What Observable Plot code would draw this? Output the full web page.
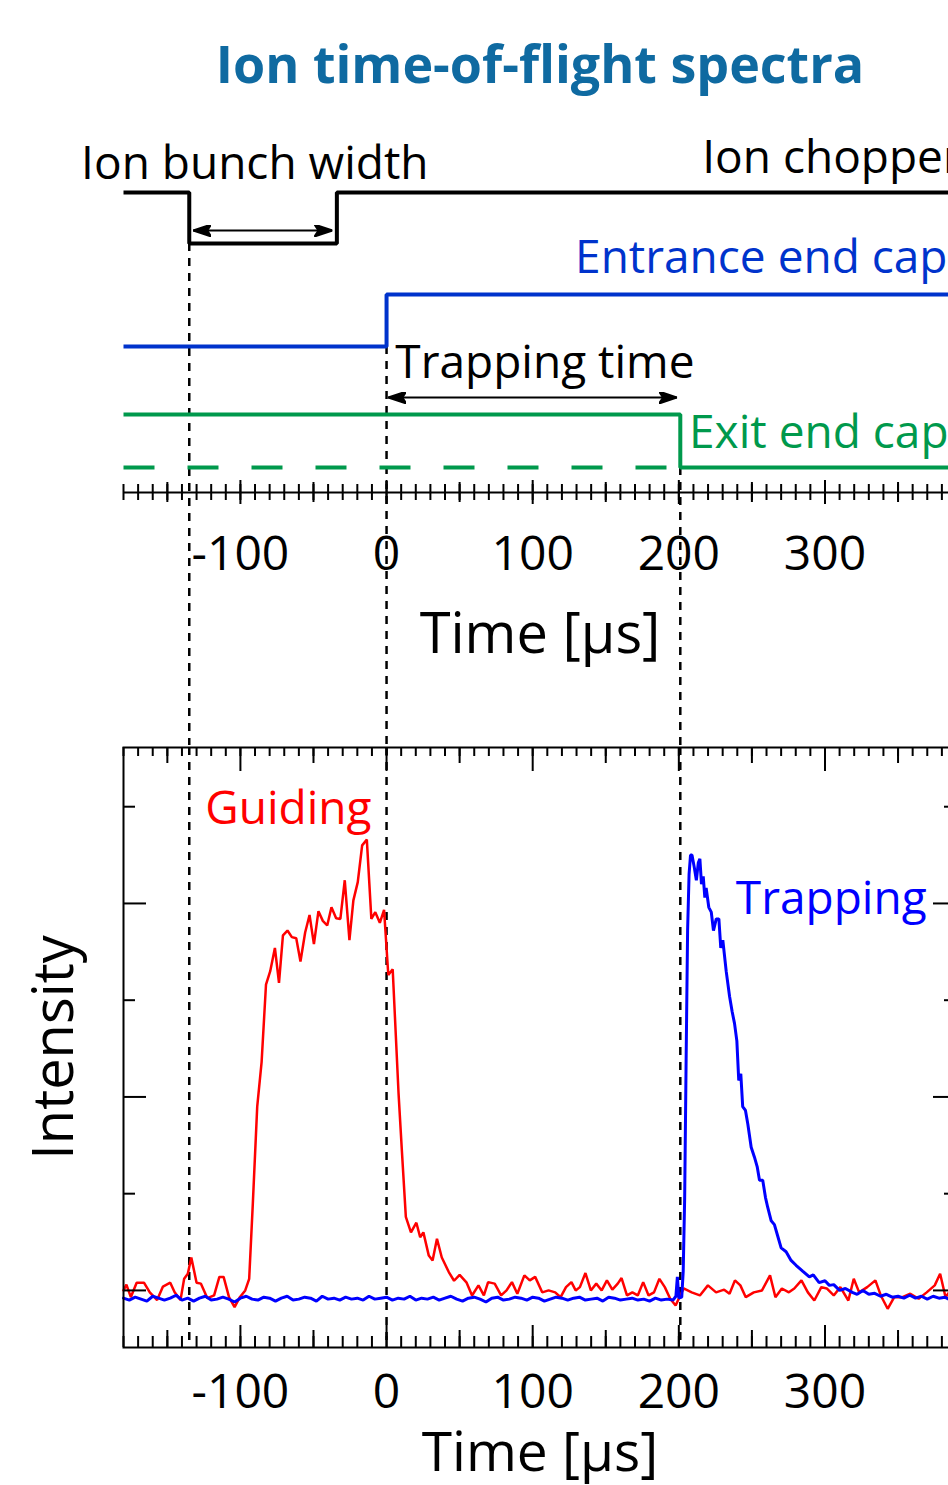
<!DOCTYPE html>
<html><head><meta charset="utf-8">
<script src="https://cdn.jsdelivr.net/npm/d3@7"></script>
<script src="https://cdn.jsdelivr.net/npm/@observablehq/plot@0.6"></script>
<style>
html,body{margin:0;padding:0;background:#fff;overflow:hidden;}
#page{position:relative;width:948px;height:1485px;overflow:hidden;font-family:"Open Sans",sans-serif;}
#title{position:absolute;left:0;top:37px;width:1080px;text-align:center;font-size:52px;line-height:52px;font-weight:700;color:#0f6aa1;white-space:nowrap;}
#top{position:absolute;left:0;top:100px;width:970px;}
#bottom{position:absolute;left:0;top:745px;width:970px;}
svg{max-width:none !important;}
</style></head>
<body><div id="page"><div id="title">Ion time-of-flight spectra</div><div id="top"></div><div id="bottom"></div></div>
<script>
// ---------- shared time axis ----------
const timeDomain = [-180, 390];
const xLabelTicks = [-100, 0, 100, 200, 300];
const xTickLabels = ["-100", "0", "100", "200", "300"];
const xMidTicks = [-150, -50, 50, 150, 250, 350];
const xMinorTicks = d3.range(-180, 391, 10);

// ---------- timing diagram (top panel) ----------
const chopperTime = [-180, -135, -34, 390];
const chopperLevel = [300, 249, 300, 300];
const entranceTime = [-180, 0, 390];
const entranceLevel = [146, 198, 198];
const exitTime = [-180, 201, 390];
const exitLevel = [78, 25, 25];
const exitOffTime = [-180, 201];
const exitOffLevel = [25, 25];
const edgeTimes = [-135, 0, 201];
const edgeLevels = [249, 146, 25];
const guideBottom = -253;
const spanStart = [-132.3, 1.2];
const spanEnd = [-37, 198.8];
const spanLevel = [262, 95];
const noteText = ["Ion bunch width", "Ion chopper", "Entrance end cap", "Trapping time", "Exit end cap"];
const noteTime = [-209, 216, 129, 6, 207];
const noteLevel = [314, 320, 220, 115, 45];
const noteColor = ["#000000", "#000000", "#0033cc", "#000000", "#00994c"];

// ---------- spectra (bottom panel) ----------
const intensityDomain = [-29.5, 280.6];
const yMajorTicks = [0, 100, 200];
const yMinorTicks = [50, 150, 250];
const guidingSpectrum = [[-180,0],[-178,3],[-175,-3.5],[-171,4],[-166,4],[-162,-1],[-157,-5],[-153,2],[-148,4],[-145,-1],[-141,-5],[-138.5,6],[-136,8.6],[-133.6,17],[-130,4],[-127,3.5],[-122.6,-4],[-118,-2.6],[-114.4,7],[-111.5,7],[-107.8,-3.5],[-104,-8.6],[-100.4,-3.5],[-96.7,0],[-94,6],[-91.5,45],[-88.5,95],[-85.5,118],[-82.5,158],[-79.6,165],[-76.4,177],[-73.6,159],[-70.9,183.5],[-67.8,186],[-64.8,182.6],[-61.8,182],[-58.9,170],[-55.7,185],[-52.7,194],[-49.7,179],[-46.6,196],[-43.6,191],[-40.6,188.6],[-37.7,198],[-34.5,192.4],[-31.6,192],[-28.6,212],[-25.4,181],[-22.7,201.6],[-19.7,211],[-16.7,230],[-13.5,233],[-10.4,192],[-7.7,195.5],[-4.6,190],[-1.7,196.7],[1.2,163],[4.2,166],[8.2,102],[10.5,72],[13.2,38],[16.7,30],[20.4,35],[23,27.5],[25.2,30],[28.9,18],[31.5,15.5],[34.5,26.7],[37.8,17],[42.6,9.5],[46.2,5],[50,8],[54.8,4],[58.5,-2.6],[62.9,2.6],[66.6,-2.6],[69.5,4.3],[74,3.5],[78.4,-2.6],[82.1,0],[85.8,4.3],[89.5,-1.7],[94.3,7.8],[98,5.2],[101.7,7],[106.5,-1],[110.9,0],[115.4,-1],[119.1,-3.5],[122.8,1.7],[126.5,4.3],[129.4,0],[132.3,1.7],[136.1,9],[139.8,0],[143.5,3.5],[147.2,0],[150.8,5.2],[154.5,0.4],[158.2,3.5],[160.8,6.4],[164.5,-2.6],[168.2,-1],[171.9,-2.6],[175.6,4.3],[179.3,-2.6],[183,-1],[186.7,6],[190.4,1.7],[194.1,-4.3],[197.8,-7.8],[200.4,-3.5],[203.3,1],[208.8,-1],[214.4,-2.6],[219.9,2.6],[225.5,-1],[231,0.4],[234.7,-1.7],[238.4,5.2],[242.1,2.6],[245.8,-3.5],[251.3,-1],[256.9,0],[262.4,7.8],[266.1,-3.5],[270.5,1],[275.3,-1],[279,1],[283.9,5.2],[288.3,-1],[292.7,-5.2],[297.5,1.7],[301.2,1],[306,-2.6],[310.5,1.7],[316,-5.2],[319.7,6],[323.4,-1],[328.9,1.7],[334.5,5.2],[338.2,-2.6],[342.9,-9.5],[347.4,-3.5],[353,-3.5],[358.4,-1.7],[364.1,-4.3],[369.6,-1],[375.1,2.6],[378.8,8.6],[382.5,-3.5],[386,0],[390,-2]];
const trappingSpectrum = [[-180,-4],[-176,-5],[-172,-3.5],[-168,-4.5],[-164,-5.5],[-160,-3],[-156,-4],[-152,-5],[-148,-4],[-144,-2.5],[-140,-5],[-136,-4],[-132,-5.5],[-128,-4],[-124,-3],[-120,-5],[-116,-4.5],[-112,-3.5],[-108,-4.5],[-104,-6],[-100,-4],[-96,-3],[-92,-4.5],[-88,-5],[-84,-3.5],[-80,-4],[-76,-5.5],[-72,-4],[-68,-3],[-64,-5],[-60,-4.5],[-56,-3.5],[-52,-4],[-48,-5.5],[-44,-3],[-40,-4.5],[-36,-4],[-32,-5],[-28,-3.5],[-24,-4.5],[-20,-4],[-16,-5],[-12,-3],[-8,-4.5],[-4,-4],[0,-3.5],[4,-5],[8,-4],[12,-4.5],[16,-3],[20,-5],[24,-4],[28,-4.5],[32,-3.5],[36,-5],[40,-4],[44,-3],[48,-4.5],[52,-5.5],[56,-4],[60,-3.5],[64,-4.5],[68,-6],[72,-4],[76,-3.5],[80,-5],[84,-4.5],[88,-3.5],[92,-4],[96,-5],[100,-3.5],[104,-4],[108,-5.5],[112,-4.5],[116,-3.5],[120,-4],[124,-5],[128,-4],[132,-3.5],[136,-5],[140,-4.5],[144,-4],[148,-5.5],[152,-3.5],[156,-4],[160,-5],[164,-4.5],[168,-4],[172,-5],[176,-4.5],[180,-5.5],[184,-4],[188,-5],[192,-4.5],[196,-5],[198,-3],[199,7],[200,-4],[202,-3.5],[203,10],[204,48],[205,120],[206,186],[207,215],[208,225],[209,225],[210.5,219],[212,212],[213.3,221],[214.4,223],[215.5,210],[216.7,214],[217.8,203],[218.7,208],[220.5,198],[222.2,195.5],[223.7,186],[225.6,192],[227.4,192],[228.7,177],[230.1,181],[232.4,165],[234.7,152],[236.5,144],[238.1,138],[239.7,129],[241,108.5],[242.4,112],[243.7,95],[245.6,93],[247.2,86],[249.5,74],[251.7,69],[253.6,64],[255.2,57],[257.4,57],[259.3,48],[260.8,43],[263.2,36],[265.4,34],[267.7,28],[270,22],[273.4,20],[276.8,15.5],[280.2,13],[284.7,10],[289.3,7],[292,8],[296,4],[300,5],[303,2.6],[306,3],[310,0],[314,1],[318.7,-1],[322,-2],[326,0],[330,-2],[334,-1.5],[338,-3],[342,-2],[346,-3.5],[350,-3],[354,-4],[358,-2.5],[362,-4],[366,-3],[370,-4.5],[374,-3],[378,-4],[382,-3.5],[386,-5],[390,-4]];
const spectrumLabel = ["Guiding", "Trapping"];
const spectrumLabelTime = [-124, 239];
const spectrumLabelIntensity = [241.3, 194.8];
const spectrumColor = ["#ff0000", "#0000ff"];

// ---------- helpers ----------
const rows = (xs, ys) => xs.map((x, i) => ({x, y: ys[i]}));
const pairs = (arr) => arr.map(([x, y]) => ({x, y}));
function filledArrow(color, context) {
  const doc = (context && context.document) || document;
  const ns = "http://www.w3.org/2000/svg";
  const m = doc.createElementNS(ns, "marker");
  m.setAttribute("viewBox", "-18 -6 18 12");
  m.setAttribute("markerWidth", 18);
  m.setAttribute("markerHeight", 12);
  m.setAttribute("markerUnits", "userSpaceOnUse");
  m.setAttribute("orient", "auto-start-reverse");
  m.setAttribute("refX", 0);
  m.setAttribute("refY", 0);
  const p = doc.createElementNS(ns, "path");
  p.setAttribute("d", "M-18,-6L0,0L-18,6L-14,0Z");
  p.setAttribute("fill", color);
  m.appendChild(p);
  return m;
}
const tickFmt = d => xTickLabels[xLabelTicks.indexOf(d)];
const common = {
  width: 970, marginLeft: 123, marginRight: 14,
  x: {domain: timeDomain},
  color: {type: "identity"},
  style: {background: "transparent", fontFamily: "'Open Sans', sans-serif", color: "black", overflow: "visible"}
};

// ---------- top plot ----------
const topPlot = Plot.plot({
  ...common,
  height: 645, marginTop: 92, marginBottom: 253,
  y: {domain: [0, 300], axis: null},
  marks: [
    Plot.ruleX(edgeTimes, {x: d => d, y1: (d, i) => edgeLevels[i], y2: guideBottom, stroke: "black", strokeWidth: 2.5, strokeDasharray: "8,7"}),
    Plot.ruleY([0], {stroke: "black", strokeWidth: 2}),
    Plot.ruleX(xMinorTicks, {x: d => d, y1: -8, y2: 8, stroke: "black", strokeWidth: 2}),
    Plot.ruleX(xMidTicks, {x: d => d, y1: -10, y2: 10, stroke: "black", strokeWidth: 2}),
    Plot.ruleX(xLabelTicks, {x: d => d, y1: -12, y2: 12, stroke: "black", strokeWidth: 2}),
    Plot.axisX({anchor: "bottom", ticks: xLabelTicks, tickFormat: tickFmt, tickSize: 0, tickPadding: 43, fontSize: 48, label: null}),
    Plot.text(["Time [µs]"], {frameAnchor: "bottom", dy: 121, lineAnchor: "top", fontSize: 56, fill: "black"}),
    Plot.line(rows(exitOffTime, exitOffLevel), {x: "x", y: "y", stroke: "#00994c", strokeWidth: 4, strokeDasharray: "31,33", strokeLinecap: "butt"}),
    Plot.line(rows(chopperTime, chopperLevel), {x: "x", y: "y", curve: "step-after", stroke: "black", strokeWidth: 4, strokeLinejoin: "miter", strokeLinecap: "butt"}),
    Plot.line(rows(entranceTime, entranceLevel), {x: "x", y: "y", curve: "step-after", stroke: "#0033cc", strokeWidth: 4, strokeLinejoin: "miter", strokeLinecap: "butt"}),
    Plot.line(rows(exitTime, exitLevel), {x: "x", y: "y", curve: "step-after", stroke: "#00994c", strokeWidth: 4, strokeLinejoin: "miter", strokeLinecap: "butt"}),
    Plot.link(spanStart, {x1: d => d, x2: (d, i) => spanEnd[i], y1: (d, i) => spanLevel[i], y2: (d, i) => spanLevel[i], stroke: "black", strokeWidth: 2, markerStart: filledArrow, markerEnd: filledArrow}),
    Plot.text(noteText, {x: (d, i) => noteTime[i], y: (d, i) => noteLevel[i], text: d => d, fill: (d, i) => noteColor[i], textAnchor: "start", lineAnchor: "bottom", fontSize: 46})
  ]
});
document.getElementById("top").appendChild(topPlot);

// ---------- bottom plot ----------
const FH = 600, FW = 833;
const bottomPlot = Plot.plot({
  ...common,
  height: 740, marginTop: 2, marginBottom: 138,
  y: {domain: intensityDomain, axis: null},
  marks: [
    Plot.ruleX(edgeTimes, {x: d => d, stroke: "black", strokeWidth: 2.5, strokeDasharray: "8,7"}),
    Plot.line(pairs(guidingSpectrum), {x: "x", y: "y", stroke: spectrumColor[0], strokeWidth: 2.5, strokeLinejoin: "miter"}),
    Plot.line(pairs(trappingSpectrum), {x: "x", y: "y", stroke: spectrumColor[1], strokeWidth: 3, strokeLinejoin: "miter"}),
    Plot.ruleX(xMinorTicks, {x: d => d, insetBottom: FH - 9, stroke: "black", strokeWidth: 2}),
    Plot.ruleX(xMidTicks, {x: d => d, insetBottom: FH - 16, stroke: "black", strokeWidth: 2}),
    Plot.ruleX(xLabelTicks, {x: d => d, insetBottom: FH - 24, stroke: "black", strokeWidth: 2}),
    Plot.ruleX(xMinorTicks, {x: d => d, insetTop: FH - 11, stroke: "black", strokeWidth: 2}),
    Plot.ruleX(xMidTicks, {x: d => d, insetTop: FH - 17, stroke: "black", strokeWidth: 2}),
    Plot.ruleX(xLabelTicks, {x: d => d, insetTop: FH - 22, stroke: "black", strokeWidth: 2}),
    Plot.ruleY(yMinorTicks, {y: d => d, insetRight: FW - 12, stroke: "black", strokeWidth: 2}),
    Plot.ruleY(yMajorTicks, {y: d => d, insetRight: FW - 23, stroke: "black", strokeWidth: 2}),
    Plot.ruleY(yMinorTicks, {y: d => d, insetLeft: FW - 12, stroke: "black", strokeWidth: 2}),
    Plot.ruleY(yMajorTicks, {y: d => d, insetLeft: FW - 23, stroke: "black", strokeWidth: 2}),
    Plot.frame({stroke: "black", strokeWidth: 2}),
    Plot.axisX({anchor: "bottom", ticks: xLabelTicks, tickFormat: tickFmt, tickSize: 0, tickPadding: 26, fontSize: 48, label: null}),
    Plot.text(["Time [µs]"], {frameAnchor: "bottom", dy: 84, lineAnchor: "top", fontSize: 55, fill: "black"}),
    Plot.text(["Intensity"], {frameAnchor: "left", rotate: -90, dx: -51, textAnchor: "middle", lineAnchor: "bottom", fontSize: 56, fill: "black"}),
    Plot.text(spectrumLabel, {x: (d, i) => spectrumLabelTime[i], y: (d, i) => spectrumLabelIntensity[i], text: d => d, fill: (d, i) => spectrumColor[i], textAnchor: "start", lineAnchor: "bottom", fontSize: 46})
  ]
});
document.getElementById("bottom").appendChild(bottomPlot);
</script></body></html>
